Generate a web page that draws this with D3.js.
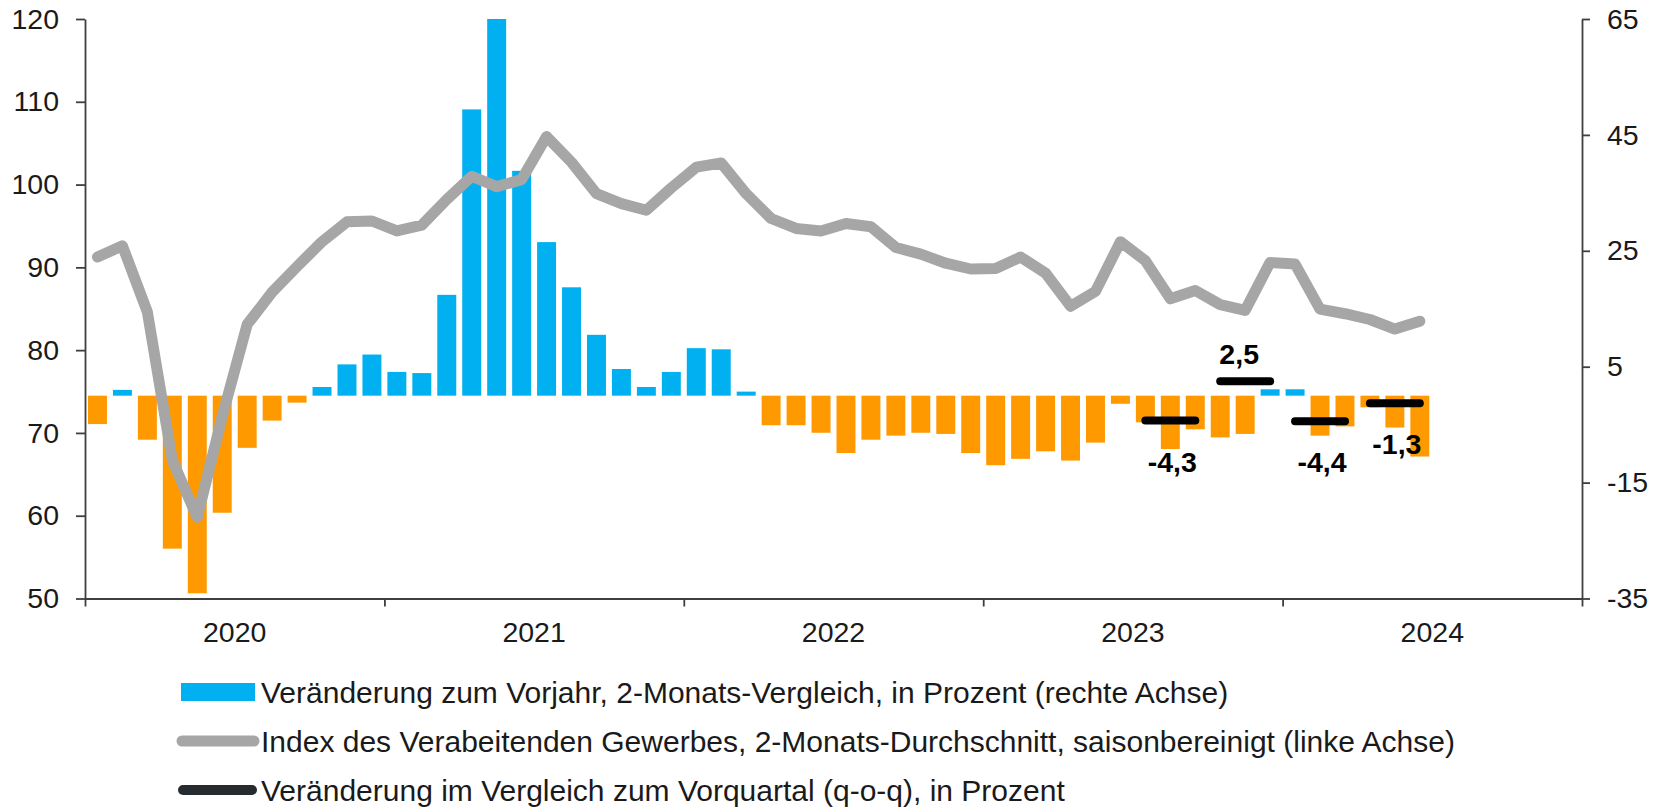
<!DOCTYPE html>
<html>
<head>
<meta charset="utf-8">
<script src="https://cdn.jsdelivr.net/npm/d3@7"></script>
<style>
    body { margin: 0; background: #ffffff; }
    svg { display: block; font-family: "Liberation Sans", Arial, sans-serif; }
</style>
</head>
<body>
<svg id="chart" width="1658" height="808"></svg>
<script>
// Years on the x axis, monthly data starts in January of the first year
var years = [2020, 2021, 2022, 2023, 2024];

// Veränderung zum Vorjahr, 2-Monats-Vergleich, in Prozent (rechte Achse), Jan 2020 - Jun 2024
var yoyChange = [
    -4.9, 1.0, -7.6, -26.4, -34.1, -20.2, -9.0, -4.3, -1.2, 1.5, 5.4, 7.1,
    4.1, 3.9, 17.4, 49.4, 65.9, 38.8, 26.5, 18.7, 10.5, 4.6, 1.5, 4.1,
    8.2, 8.0, 0.7, -5.1, -5.1, -6.4, -9.9, -7.6, -6.9, -6.4, -6.6, -9.9,
    -12.0, -10.9, -9.6, -11.2, -8.1, -1.4, -4.6, -9.2, -5.8, -7.2, -6.6, 1.1,
    1.1, -6.9, -5.3, -2.0, -5.5, -10.5
];

// Index des Verarbeitenden Gewerbes, 2-Monats-Durchschnitt (linke Achse), Jan 2020 - Jun 2024
var productionIndex = [
    91.25, 92.6, 84.6, 66.7, 59.8, 72.0, 83.1, 87.0, 90.1, 93.1, 95.5, 95.6,
    94.4, 95.1, 98.2, 101.0, 99.75, 100.6, 105.8, 102.7, 98.9, 97.7, 96.9, 99.6,
    102.1, 102.6, 98.9, 95.9, 94.7, 94.4, 95.3, 94.9, 92.4, 91.6, 90.5, 89.8,
    89.85, 91.25, 89.3, 85.3, 87.1, 93.1, 90.8, 86.2, 87.2, 85.5, 84.8, 90.6,
    90.4, 84.95, 84.4, 83.7, 82.55, 83.5
];

// Veränderung im Vergleich zum Vorquartal (q-o-q), in Prozent
var qoqQuarters = ["2023-Q3", "2023-Q4", "2024-Q1", "2024-Q2"];
var qoqValues = [-4.3, 2.5, -4.4, -1.3];

// Axis ticks
var leftTicks = [50, 60, 70, 80, 90, 100, 110, 120];
var rightTicks = [-35, -15, 5, 25, 45, 65];

var legendLabels = [
    "Veränderung zum Vorjahr, 2-Monats-Vergleich, in Prozent (rechte Achse)",
    "Index des Verabeitenden Gewerbes, 2-Monats-Durchschnitt, saisonbereinigt (linke Achse)",
    "Veränderung im Vergleich zum Vorquartal (q-o-q), in Prozent"
];

var colors = {
    up: "#00b0f0",
    down: "#ff9900",
    index: "#a6a6a6",
    qoq: "#000000",
    qoqLegend: "#262b2f",
    axis: "#3f3f3f",
    text: "#1a1a1a"
};

var plot = { left: 85, right: 1582, top: 19, bottom: 598.5 };
var tickFont = 28.5;

var svg = d3.select("#chart");

// month keys for the whole x range (all years), data only fills the first part
var monthKeys = [];
years.forEach(function (y) {
    d3.range(1, 13).forEach(function (m) {
        monthKeys.push(y + "-" + (m < 10 ? "0" + m : m));
    });
});

var x = d3.scaleBand()
    .domain(monthKeys)
    .range([plot.left, plot.right])
    .paddingInner(0.24)
    .paddingOuter(0.12);

var xYear = d3.scaleLinear()
    .domain([years[0], years[years.length - 1] + 1])
    .range([plot.left, plot.right]);

var yLeft = d3.scaleLinear().domain([50, 120]).range([plot.bottom, plot.top]);
var yRight = d3.scaleLinear().domain([-35, 65]).range([plot.bottom, plot.top]).clamp(true);

// German number format with a plain hyphen as minus sign
var de = d3.formatLocale({ decimal: ",", thousands: ".", grouping: [3], currency: ["", " €"], minus: "-" });
var fmt = de.format(".1f");
var fmtInt = de.format("d");

/**
 * Applies the common axis look
 * @param g - axis group
 */
function styleAxis(g) {
    g.select(".domain").attr("stroke", colors.axis).attr("stroke-width", 1.8);
    g.selectAll(".tick line").attr("stroke", colors.axis).attr("stroke-width", 1.8);
    g.selectAll(".tick text")
        .attr("fill", colors.text)
        .attr("font-size", tickFont)
        .attr("font-family", "Liberation Sans, Arial, sans-serif");
}

// bars (right axis)
svg.append("g")
    .selectAll("rect")
    .data(yoyChange)
    .enter()
    .append("rect")
    .attr("x", function (d, i) { return x(monthKeys[i]); })
    .attr("width", x.bandwidth())
    .attr("y", function (d) { return Math.min(yRight(d), yRight(0)); })
    .attr("height", function (d) { return Math.abs(yRight(d) - yRight(0)); })
    .attr("fill", function (d) { return d >= 0 ? colors.up : colors.down; });

// index line (left axis)
var line = d3.line()
    .x(function (d, i) { return x(monthKeys[i]) + x.bandwidth() / 2; })
    .y(function (d) { return yLeft(d); });

svg.append("path")
    .datum(productionIndex)
    .attr("d", line)
    .attr("fill", "none")
    .attr("stroke", colors.index)
    .attr("stroke-width", 11)
    .attr("stroke-linejoin", "round")
    .attr("stroke-linecap", "round");

// quarter-on-quarter segments, from first to last month of each quarter
var qoq = qoqQuarters.map(function (q, i) {
    var parts = q.split("-Q");
    var first = (+parts[1] - 1) * 3 + 1;
    var key = function (m) { return parts[0] + "-" + (m < 10 ? "0" + m : m); };
    return { start: key(first), mid: key(first + 1), end: key(first + 2), value: qoqValues[i] };
});

var qoqGroup = svg.append("g");
qoqGroup.selectAll("line")
    .data(qoq)
    .enter()
    .append("line")
    .attr("x1", function (d) { return x(d.start) + x.bandwidth() / 2; })
    .attr("x2", function (d) { return x(d.end) + x.bandwidth() / 2; })
    .attr("y1", function (d) { return yRight(d.value); })
    .attr("y2", function (d) { return yRight(d.value); })
    .attr("stroke", colors.qoq)
    .attr("stroke-width", 8)
    .attr("stroke-linecap", "round");

qoqGroup.selectAll("text")
    .data(qoq)
    .enter()
    .append("text")
    .attr("x", function (d) { return x(d.mid) + x.bandwidth() / 2 + (d.value >= 0 ? -6 : 2); })
    .attr("y", function (d) { return yRight(d.value) + (d.value >= 0 ? -17 : 51); })
    .attr("text-anchor", "middle")
    .attr("font-size", tickFont)
    .attr("font-weight", "bold")
    .attr("fill", "#000")
    .text(function (d) { return fmt(d.value); });

// axes
svg.append("g")
    .attr("transform", "translate(" + plot.left + ",0)")
    .call(d3.axisLeft(yLeft).tickValues(leftTicks).tickSize(9).tickSizeOuter(0).tickPadding(17).tickFormat(fmtInt))
    .call(styleAxis);

svg.append("g")
    .attr("transform", "translate(" + plot.right + ",0)")
    .call(d3.axisRight(yRight).tickValues(rightTicks).tickSize(8).tickSizeOuter(0).tickPadding(17).tickFormat(fmtInt))
    .call(styleAxis);

var xAxis = svg.append("g")
    .attr("transform", "translate(0," + plot.bottom + ")")
    .call(d3.axisBottom(xYear)
        .tickValues(years.concat([years[years.length - 1] + 1]))
        .tickSize(8)
        .tickSizeOuter(0)
        .tickFormat(""))
    .call(styleAxis);

xAxis.selectAll(".year")
    .data(years)
    .enter()
    .append("text")
    .attr("class", "year")
    .attr("x", function (d) { return xYear(d + 0.5); })
    .attr("y", 34)
    .attr("dy", "0.35em")
    .attr("text-anchor", "middle")
    .attr("fill", colors.text)
    .attr("font-size", tickFont)
    .text(function (d) { return d; });

// legend
var legend = svg.append("g");
var rowY = [692, 741, 790];

legend.append("rect")
    .attr("x", 181).attr("y", rowY[0] - 9)
    .attr("width", 74).attr("height", 18)
    .attr("fill", colors.up);

legend.append("line")
    .attr("x1", 182).attr("x2", 254)
    .attr("y1", rowY[1]).attr("y2", rowY[1])
    .attr("stroke", colors.index).attr("stroke-width", 11).attr("stroke-linecap", "round");

legend.append("line")
    .attr("x1", 183).attr("x2", 252)
    .attr("y1", rowY[2]).attr("y2", rowY[2])
    .attr("stroke", colors.qoqLegend).attr("stroke-width", 10).attr("stroke-linecap", "round");

legend.selectAll("text")
    .data(legendLabels)
    .enter()
    .append("text")
    .attr("x", 261)
    .attr("y", function (d, i) { return rowY[i] + 10.5; })
    .attr("fill", colors.text)
    .attr("font-size", 30)
    .text(function (d) { return d; });
</script>
</body>
</html>
